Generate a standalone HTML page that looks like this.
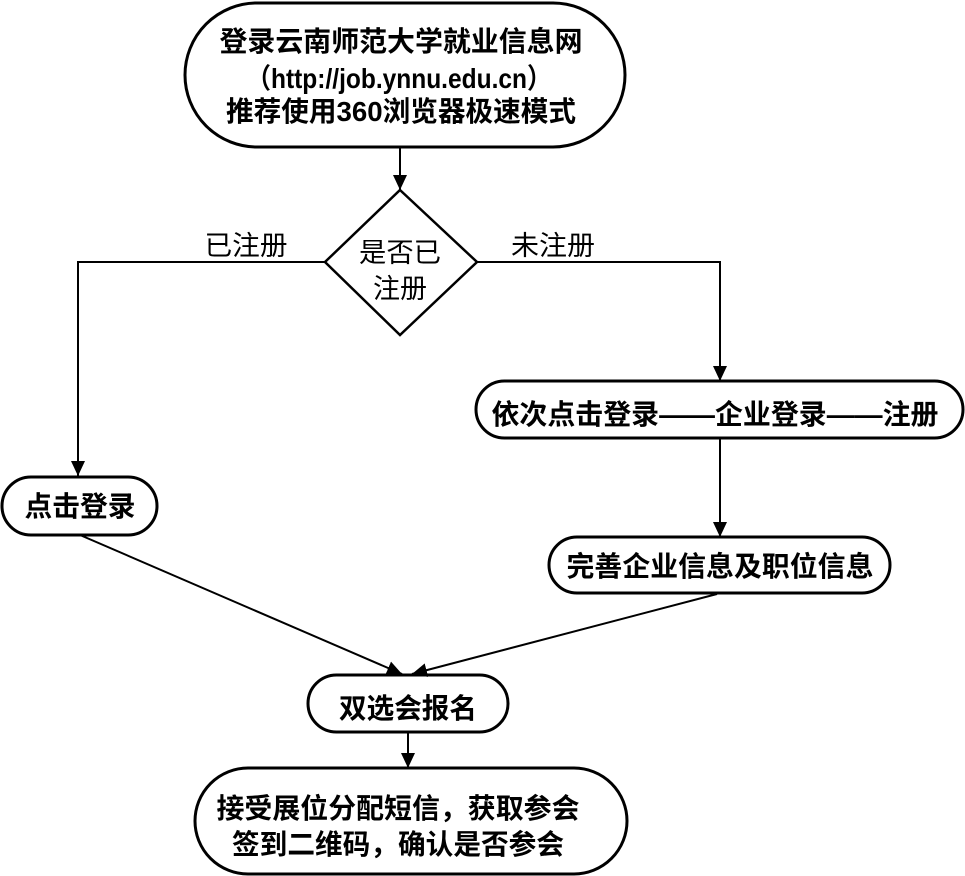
<!DOCTYPE html>
<html><head><meta charset="utf-8"><style>
html,body{margin:0;padding:0;background:#fff;}
svg{display:block;}
text{font-family:"Liberation Sans","Noto Sans CJK SC",sans-serif;fill:#000;}
.b{font-weight:bold;font-size:28px;}
.n{font-size:27px;}
</style></head><body>
<svg width="965" height="876" viewBox="0 0 965 876" xmlns="http://www.w3.org/2000/svg">
<defs>
<marker id="a" markerWidth="16" markerHeight="14" refX="15" refY="7" orient="auto" markerUnits="userSpaceOnUse"><path d="M0,0 L15,7 L0,14 z" fill="#000"/></marker>
</defs>
<g fill="#fff" stroke="#000" stroke-width="3">
<rect x="185" y="3" width="440" height="144" rx="72" ry="72"/>
<polygon points="400,190 477,262 400,335 325,262" stroke-width="2.5"/>
<rect x="476" y="381" width="487" height="57" rx="28.5" ry="28.5"/>
<rect x="2" y="477" width="155" height="58" rx="29" ry="29"/>
<rect x="549" y="537" width="341" height="56" rx="28" ry="28"/>
<rect x="308" y="675" width="200" height="57" rx="28.5" ry="28.5"/>
<rect x="195" y="768" width="432" height="106" rx="53" ry="53"/>
</g>
<g fill="none" stroke="#000" stroke-width="2">
<line x1="400" y1="148" x2="400" y2="190" marker-end="url(#a)"/>
<polyline points="325,262 78,262 78,476" marker-end="url(#a)"/>
<polyline points="477,262 720,262 720,381" marker-end="url(#a)"/>
<line x1="720" y1="439" x2="720" y2="537" marker-end="url(#a)"/>
<line x1="80" y1="535" x2="402" y2="674" marker-end="url(#a)"/>
<line x1="717" y1="594" x2="412" y2="674" marker-end="url(#a)"/>
<line x1="408" y1="733" x2="408" y2="768" marker-end="url(#a)"/>
</g>
<text class="b" x="401" y="51" text-anchor="middle" textLength="363" lengthAdjust="spacingAndGlyphs">登录云南师范大学就业信息网</text>
<text class="b" x="399" y="88" text-anchor="middle" textLength="305" lengthAdjust="spacingAndGlyphs">（http://job.ynnu.edu.cn）</text>
<text class="b" x="401" y="121" text-anchor="middle" textLength="350" lengthAdjust="spacingAndGlyphs">推荐使用360浏览器极速模式</text>
<text class="n" x="400" y="262" text-anchor="middle" textLength="82" lengthAdjust="spacingAndGlyphs">是否已</text>
<text class="n" x="400" y="298" text-anchor="middle" textLength="54" lengthAdjust="spacingAndGlyphs">注册</text>
<text class="n" x="246" y="255" text-anchor="middle" textLength="83" lengthAdjust="spacingAndGlyphs">已注册</text>
<text class="n" x="553" y="255" text-anchor="middle" textLength="84" lengthAdjust="spacingAndGlyphs">未注册</text>
<text class="b" x="715" y="424" text-anchor="middle" textLength="447" lengthAdjust="spacingAndGlyphs">依次点击登录——企业登录——注册</text>
<text class="b" x="80" y="516" text-anchor="middle" textLength="111" lengthAdjust="spacingAndGlyphs">点击登录</text>
<text class="b" x="720" y="576" text-anchor="middle" textLength="307" lengthAdjust="spacingAndGlyphs">完善企业信息及职位信息</text>
<text class="b" x="408" y="718" text-anchor="middle" textLength="138" lengthAdjust="spacingAndGlyphs">双选会报名</text>
<text class="b" x="398" y="818" text-anchor="middle" textLength="363" lengthAdjust="spacingAndGlyphs">接受展位分配短信，获取参会</text>
<text class="b" x="398" y="854" text-anchor="middle" textLength="332" lengthAdjust="spacingAndGlyphs">签到二维码，确认是否参会</text>
</svg>
</body></html>
